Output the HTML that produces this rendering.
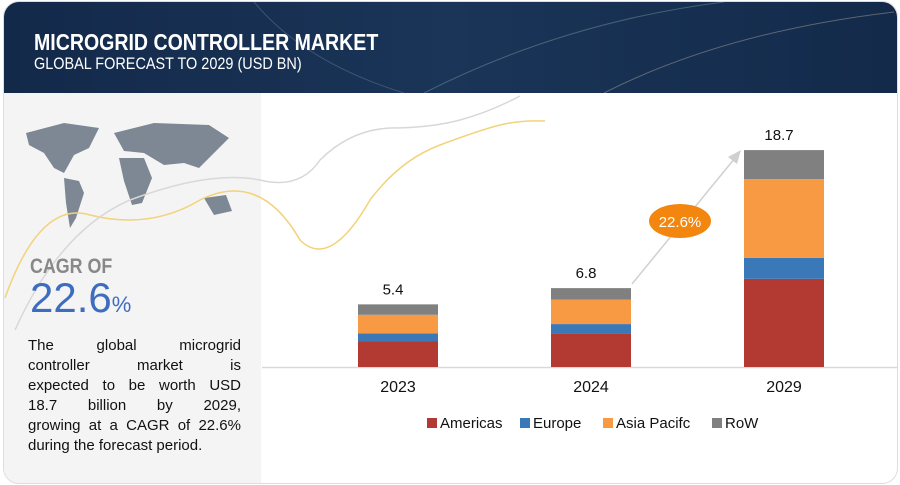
<!DOCTYPE html>
<html><head><meta charset="utf-8"><style>
body{margin:0;width:900px;height:485px;overflow:hidden;background:#fff;font-family:"Liberation Sans",sans-serif;}
#card{position:absolute;left:3px;top:1px;width:893px;height:481px;border:1px solid #ddd;border-radius:16px;overflow:hidden;background:#fff;}
#hdr{position:absolute;left:0;top:0;width:893px;height:91px;background:linear-gradient(90deg,#13294a,#1a3558 50%,#132a4a);}
#t1{position:absolute;left:30px;top:27px;color:#fff;font-weight:bold;font-size:23px;transform:scaleX(0.85);transform-origin:left;white-space:nowrap;}
#t2{position:absolute;left:30px;top:52px;color:#fff;font-size:17px;transform:scaleX(0.85);transform-origin:left;white-space:nowrap;}
#left{position:absolute;left:0;top:91px;width:257px;height:390px;background:#f4f4f4;}
.ln{position:absolute;left:25px;width:213px;font-size:15px;color:#111;text-align:justify;text-align-last:justify;white-space:nowrap;}
</style></head><body>
<div id="card">
<div id="hdr">
<svg width="893" height="91" style="position:absolute;left:0;top:0">
<path d="M420 91 Q560 20 720 0" stroke="#8aa" stroke-width="1" fill="none" opacity="0.4"/>
<path d="M600 91 Q720 30 890 10" stroke="#cba" stroke-width="1" fill="none" opacity="0.4"/>
<path d="M250 0 Q300 60 400 91" stroke="#9ab" stroke-width="1" fill="none" opacity="0.3"/>
</svg>
<div id="t1">MICROGRID CONTROLLER MARKET</div>
<div id="t2">GLOBAL FORECAST TO 2029 (USD BN)</div>
</div>
<div id="left">
<svg width="257" height="200" style="position:absolute;left:0;top:0">
<g fill="#7d8894">
<path d="M22 40 L60 30 L95 35 L85 55 L70 62 L60 80 L50 75 L40 60 L25 52Z"/>
<path d="M60 85 L75 88 L80 100 L72 125 L66 135 L62 110Z"/>
<path d="M110 40 L150 30 L205 32 L225 45 L210 60 L195 75 L180 70 L160 72 L140 60 L120 58Z"/>
<path d="M115 65 L140 65 L148 85 L138 110 L128 112 L120 88Z"/>
<path d="M200 105 L222 102 L228 118 L210 122Z"/>
</g>
</svg>
</div>
</div>
<svg width="900" height="485" style="position:absolute;left:0;top:0">
<path d="M5 298 Q40 200 90 215 Q150 230 200 200 Q260 170 300 240 Q330 270 370 200 Q400 160 440 145 Q480 130 500 125 Q520 120 545 121" stroke="#f2d27a" stroke-width="1.5" fill="none"/>
<path d="M15 330 Q60 230 130 200 Q210 170 260 180 Q300 190 320 160 Q350 130 390 128 Q430 128 460 120 Q490 112 520 96" stroke="#d8d8d8" stroke-width="1.5" fill="none"/>
</svg>
<div style="position:absolute;left:30px;top:255px;font-size:21px;font-weight:bold;color:#888;transform:scaleX(0.85);transform-origin:left;">CAGR OF</div>
<div style="position:absolute;left:30px;top:274px;color:#3e6dbf;font-size:42px;">22.6<span style="font-size:22px">%</span></div>
<div style="position:absolute;left:3px;top:92px">
<div class="ln" style="top:245px">The global microgrid</div>
<div class="ln" style="top:265px">controller market is</div>
<div class="ln" style="top:285px">expected to be worth USD</div>
<div class="ln" style="top:305px">18.7 billion by 2029,</div>
<div class="ln" style="top:325px">growing at a CAGR of 22.6%</div>
<div class="ln" style="top:345px;text-align-last:left">during the forecast period.</div>
</div>
<svg id="chart" width="900" height="485" style="position:absolute;left:0;top:0"></svg>
<script>
const categories=["2023","2024","2029"];
const americas=[2.2,2.9,7.6];
const europe=[0.7,0.8,1.8];
const asiaPacific=[1.6,2.1,6.8];
const row=[0.9,1.0,2.5];
const totals=["5.4","6.8","18.7"];
const seriesNames=["Americas","Europe","Asia Pacifc","RoW"];
const colors=["#b33a32","#3a78b8","#f79a43","#808080"];
const series=[americas,europe,asiaPacific,row];
const svg=document.getElementById('chart');const NS='http://www.w3.org/2000/svg';
const baseY=367,scale=11.6,barW=80;
const xPos=i=>[358,551,744][i];
const y=v=>baseY-v*scale;
function mk(t,a){const e=document.createElementNS(NS,t);for(const k in a)e.setAttribute(k,a[k]);svg.appendChild(e);return e;}
const ax=mk('line',{x1:262,x2:897,y1:baseY+0.5,y2:baseY+0.5,stroke:'#d9d9d9','stroke-width':1.5});


categories.forEach((c,i)=>{let acc=0;series.forEach((s,j)=>{
const r=mk('rect',{x:xPos(i),y:y(acc+s[i]),width:barW,height:s[i]*scale,fill:colors[j]});


acc+=s[i];});
const lb=mk('text',{x:xPos(i)+barW/2-5,y:y(acc)-10,'text-anchor':'middle','font-size':15,fill:'#111'});lb.textContent=totals[i];


const xl=mk('text',{x:xPos(i)+barW/2,y:baseY+25,'text-anchor':'middle','font-size':16,fill:'#111'});xl.textContent=c;


});
const ar=mk('line',{x1:632,y1:284,x2:735,y2:158,stroke:'#d0d0d0','stroke-width':1.5});


const ah=mk('polygon',{points:'741,150 728,157 737,164',fill:'#d0d0d0'});


const el=mk('ellipse',{cx:680,cy:221,rx:31,ry:17,fill:'#f2860f'});


const et=mk('text',{x:680,y:227,'text-anchor':'middle','font-size':15,fill:'#fff'});et.textContent='22.6%';


const lx=[427,520,603,712];
seriesNames.forEach((n,j)=>{
const r=mk('rect',{x:lx[j],y:418,width:10,height:10,fill:colors[j]});


const t=mk('text',{x:lx[j]+13,y:428,'font-size':15,fill:'#111'});t.textContent=n;


});
</script>
</body></html>
